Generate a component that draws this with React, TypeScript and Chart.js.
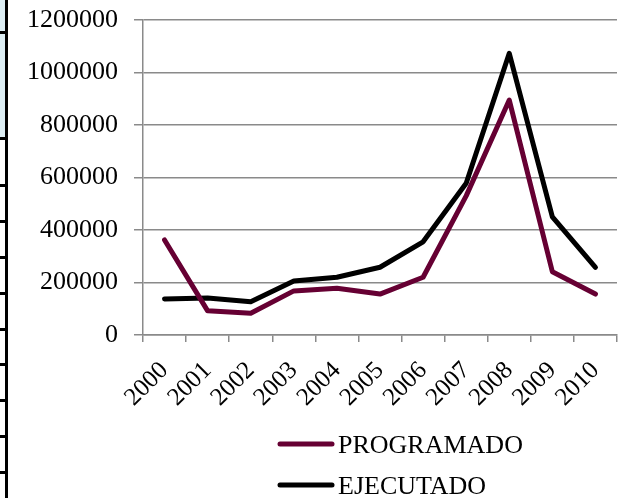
import React, { useEffect, useRef } from "react";
import { Chart, registerables } from "chart.js";

Chart.register(...registerables);

const years = ["2000", "2001", "2002", "2003", "2004", "2005", "2006", "2007", "2008", "2009", "2010"];
const programado = [362000, 92000, 83000, 168000, 178000, 156000, 220000, 530000, 895000, 241000, 156000];
const ejecutado = [137000, 141000, 127000, 206000, 220000, 258000, 355000, 578000, 1073000, 450000, 258000];
const seriesNames = ["PROGRAMADO", "EJECUTADO"];
const seriesColors = ["#660033", "#000000"];
const yMin = 0;
const yMax = 1200000;
const yStep = 200000;

const FONT = "'Liberation Serif', 'Times New Roman', serif";

const legendPlugin = {
  id: "stackedLegend",
  afterDraw(chart: any) {
    const ctx = chart.ctx;
    ctx.save();
    chart.data.datasets.forEach((ds: any, i: number) => {
      const y = 444 + i * 41;
      ctx.strokeStyle = ds.borderColor;
      ctx.lineWidth = 5;
      ctx.lineCap = "round";
      ctx.beginPath();
      ctx.moveTo(280, y);
      ctx.lineTo(332, y);
      ctx.stroke();
      ctx.fillStyle = "#000";
      ctx.font = `26px ${FONT}`;
      ctx.textAlign = "left";
      ctx.textBaseline = "alphabetic";
      ctx.fillText(ds.label, 338, y + 9);
    });
    ctx.restore();
  },
};

function EdgeDecoration() {
  const marks = [32, 138, 185, 221, 257, 293, 329, 364, 400, 436, 472];
  return (
    <>
      <div style={{ position: "absolute", left: 0, top: 0, width: 6, height: 138, background: "#dcedf3" }} />
      <div style={{ position: "absolute", left: 5, top: 0, width: 3, height: 498, background: "#000" }} />
      {marks.map((m) => (
        <div key={m} style={{ position: "absolute", left: 0, top: m - 1, width: 6, height: 3, background: "#000" }} />
      ))}
    </>
  );
}

const zeroPad = (s: any) => {
  s.paddingTop = 0;
  s.paddingBottom = 0;
  s.paddingLeft = 0;
  s.paddingRight = 0;
};

export default function App() {
  const ref = useRef<HTMLCanvasElement | null>(null);

  useEffect(() => {
    if (!ref.current) return;
    const chart = new Chart(ref.current, {
      type: "line",
      data: {
        labels: years,
        datasets: [
          { label: seriesNames[0], data: programado, borderColor: seriesColors[0], backgroundColor: seriesColors[0] },
          { label: seriesNames[1], data: ejecutado, borderColor: seriesColors[1], backgroundColor: seriesColors[1] },
        ],
      },
      options: {
        animation: false,
        responsive: false,
        layout: { padding: { top: 20, right: 3, left: 0, bottom: 0 } },
        plugins: { legend: { display: false }, tooltip: { enabled: false } },
        elements: {
          point: { radius: 0 },
          line: { tension: 0, borderWidth: 5, borderJoinStyle: "round", borderCapStyle: "round" },
        },
        scales: {
          x: {
            offset: true,
            grid: { offset: true, drawOnChartArea: false, drawTicks: true, tickLength: 7, color: "#8a8a8a", lineWidth: 1.5 },
            border: { color: "#8a8a8a", width: 1.5 },
            ticks: {
              autoSkip: false,
              maxRotation: 45,
              minRotation: 45,
              padding: 14,
              color: "#000",
              font: { family: FONT, size: 25 },
            },
            afterFit: (s: any) => {
              s.height = 163;
              zeroPad(s);
            },
          },
          y: {
            min: yMin,
            max: yMax,
            grid: { color: "#8a8a8a", lineWidth: 1.5, tickLength: 9 },
            border: { color: "#8a8a8a", width: 1.5 },
            ticks: {
              stepSize: yStep,
              padding: 16,
              color: "#000",
              font: { family: FONT, size: 26 },
              callback: (v: any) => String(v),
            },
            afterFit: (s: any) => {
              s.width = 143;
              zeroPad(s);
            },
          },
        },
      },
      plugins: [legendPlugin],
    });
    return () => chart.destroy();
  }, []);

  return (
    <div style={{ position: "absolute", left: 0, top: 0, width: 620, height: 498, background: "#fff", overflow: "hidden" }}>
      <canvas ref={ref} width={620} height={498} style={{ position: "absolute", left: 0, top: 0 }} />
      <EdgeDecoration />
    </div>
  );
}
